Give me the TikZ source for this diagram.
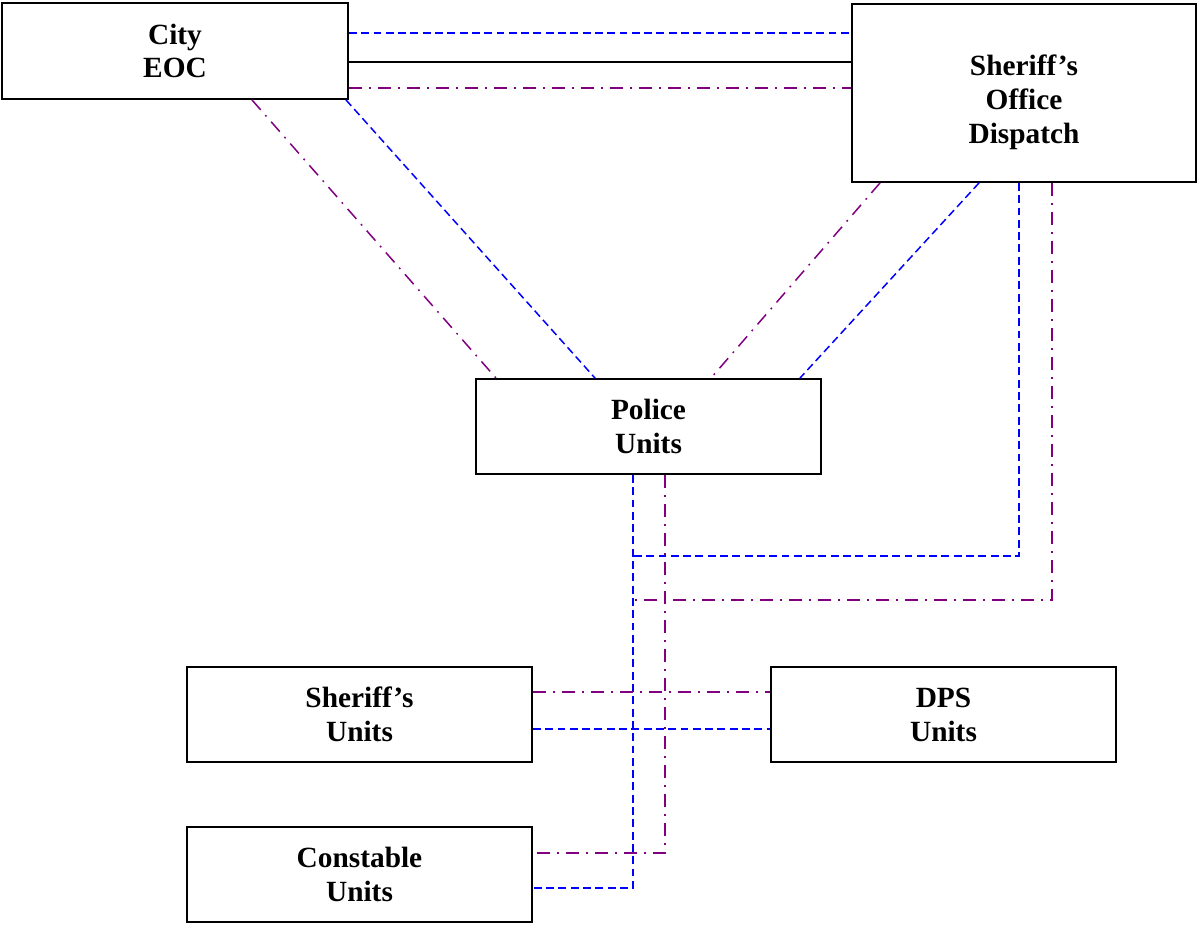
\documentclass[tikz,border=0pt]{standalone}
\usepackage{fontspec}
\setmainfont{Liberation Serif}
\usepackage{tikz}
\definecolor{linkpurple}{RGB}{128,0,128}
\definecolor{linkblue}{RGB}{0,0,255}

\begin{document}
\begin{tikzpicture}[x=0.02cm,y=-0.02cm,line width=0.85pt,
        unitbox/.style={shape=rectangle,draw=black,line width=1.1pt,align=center,inner sep=0pt,
            minimum width=6.9cm,minimum height=1.9cm,font=\fontsize{16.7}{19.3}\selectfont\bfseries},
        bluedash/.style={linkblue,dash pattern=on 4.5pt off 2.5pt},
        purpledot/.style={linkpurple,dash pattern=on 7.5pt off 4pt on 1pt off 4pt}]
                \useasboundingbox (0,0) rectangle (1197,924);
                \node[unitbox,minimum width=6.92cm,minimum height=1.92cm](CityEOC)at(175, 51){City\\EOC};
                \node[unitbox,minimum width=6.88cm,minimum height=3.56cm](Dispatch)at(1024, 93){\rule{0pt}{0.78cm}Sheriff’s\\Office\\Dispatch};
                \node[unitbox](Police)at(648.5, 426.5){Police\\Units};
                \node[unitbox](SheriffUnits)at(359.5, 714.5){Sheriff’s\\Units};
                \node[unitbox](DPS)at(943.5, 714.5){DPS\\Units};
                \node[unitbox](Constable)at(359.5, 874.5){Constable\\Units};
                % where the lines from the dispatch meet the police line
                \coordinate (blueJoin) at (633, 556);
                \coordinate (purpleJoin) at (633, 600);
                % city EOC to dispatch
                \draw[bluedash](CityEOC.east |- 0,33) -- (Dispatch.west |- 0,33);
                \draw[black](CityEOC.east |- 0,62) -- (Dispatch.west |- 0,62);
                \draw[purpledot](CityEOC.east |- 0,88) -- (Dispatch.west |- 0,88);
                % down to the police units
                \draw[purpledot](CityEOC.south -| 252,0) -- (Police.north -| 496,0);
                \draw[bluedash](CityEOC.south -| 346,0) -- (Police.north -| 595,0);
                \draw[purpledot](Dispatch.south -| 880,0) -- (Police.north -| 711,0);
                \draw[bluedash](Dispatch.south -| 979,0) -- (Police.north -| 800,0);
                \draw[bluedash](Dispatch.south -| 1019,0) |- (blueJoin);
                \draw[purpledot](Dispatch.south -| 1052,0) |- (purpleJoin);
                % police units to constable units
                \draw[bluedash](Police.south -| 633,0) |- (Constable.east |- 0,888);
                \draw[purpledot](Police.south -| 665,0) |- (Constable.east |- 0,853);
                % sheriff's units to DPS units
                \draw[purpledot](SheriffUnits.east |- 0,692) -- (DPS.west |- 0,692);
                \draw[bluedash](SheriffUnits.east |- 0,729) -- (DPS.west |- 0,729);
            \end{tikzpicture}
\end{document}
